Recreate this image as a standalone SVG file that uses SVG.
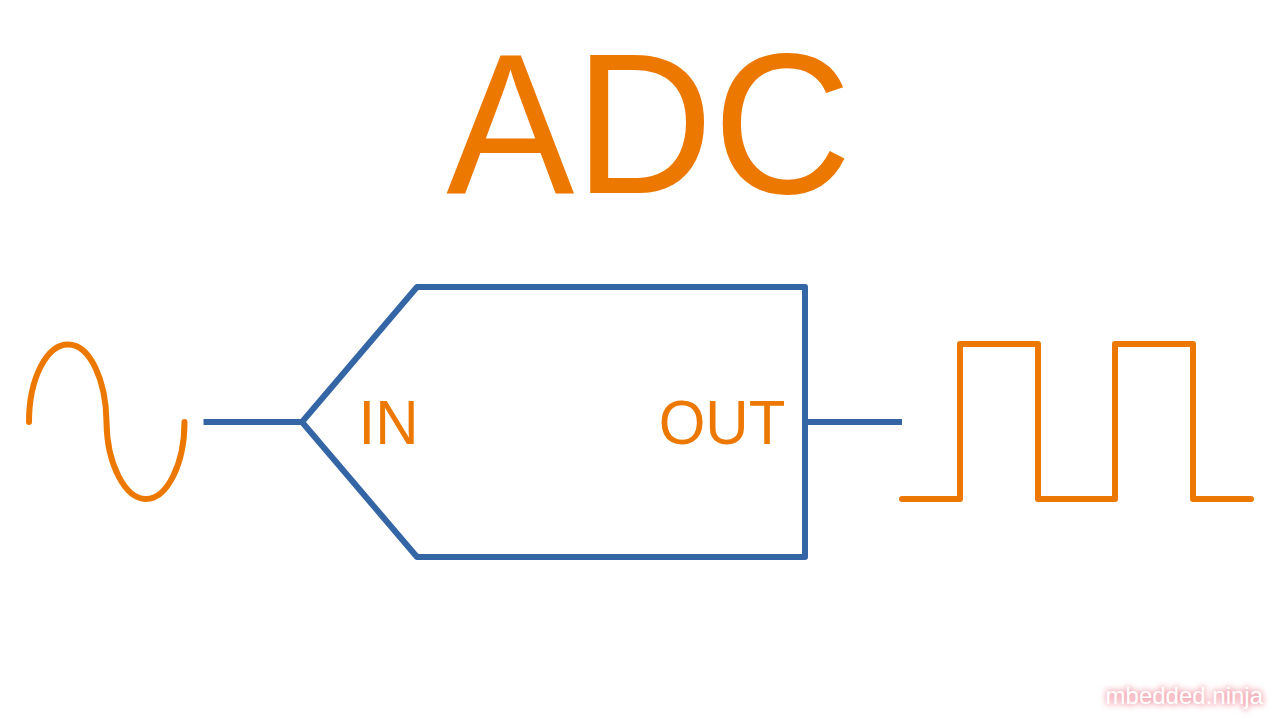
<svg xmlns="http://www.w3.org/2000/svg" width="1280" height="720" viewBox="0 0 1280 720">
<defs><filter id="glow" x="-10%" y="-50%" width="120%" height="200%"><feGaussianBlur stdDeviation="3"/></filter></defs>
<style>
.o{fill:none;stroke:#ED7800;stroke-width:6;stroke-linecap:round;stroke-linejoin:round}
.b{fill:none;stroke:#3465A4;stroke-width:6;stroke-linejoin:round;stroke-linecap:round}
.c{fill:none;stroke:#3465A4;stroke-width:6;stroke-linecap:butt}
.t{font-family:"Liberation Sans",Arial,sans-serif;fill:#ED7800}
.w{font-family:"Liberation Sans",Arial,sans-serif;font-size:24px;text-anchor:end}
</style>
<rect width="1280" height="720" fill="#fff"/>
<text class="t" transform="translate(649 193) scale(1 1.04)" font-size="192" text-anchor="middle">ADC</text>
<g id="sine"><path class="o" d="M29 422C29 378 47 344.500 68 344.500C90 344.500 106 380 106.500 422C107 464 125 499 146 499C167 499 184.500 464 184.500 422"/></g>
<g id="adc"><path class="b" d="M302 422L417 287H805V557H417Z"/>
<text class="t" transform="translate(358.500 443.500) scale(1 1.04)" font-size="60">IN</text>
<text class="t" transform="translate(658.700 443.500) scale(1 1.04)" font-size="60">OUT</text></g>
<g id="square"><path class="o" d="M902 499H960V344H1038V499H1115V344H1193V499H1251"/></g>
<g id="connectors"><path class="c" d="M203.500 422H302M805 422H902"/></g>
<g id="watermark"><text class="w" x="1263" y="704" fill="#F2A0AC" stroke="#F2A0AC" stroke-width="2" filter="url(#glow)">mbedded.ninja</text>
<text class="w" x="1263" y="704" fill="#fff">mbedded.ninja</text></g>
</svg>
